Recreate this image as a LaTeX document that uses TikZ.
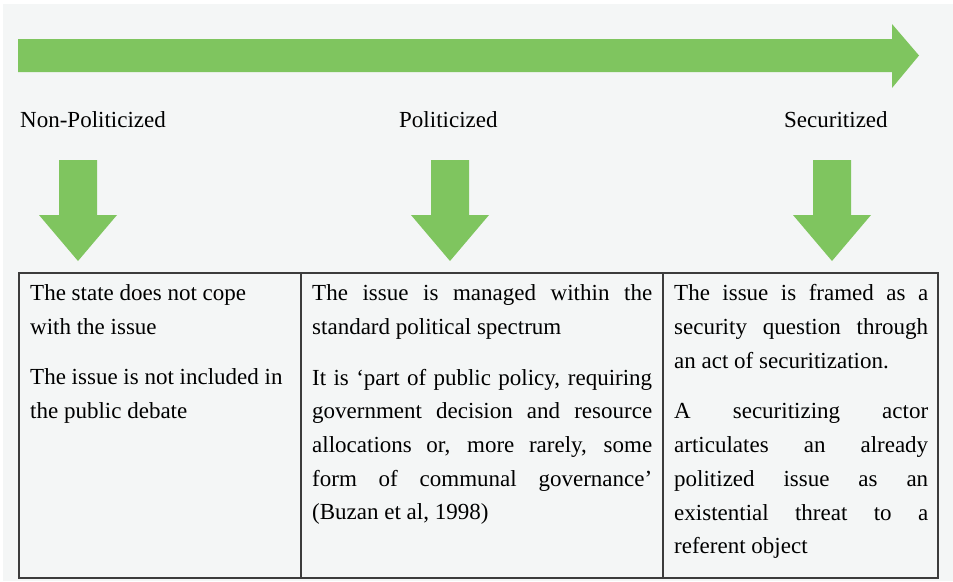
\documentclass[tikz,border=0pt]{standalone}
\usepackage{fontspec}
\setmainfont{Liberation Serif}
\definecolor{arrowgreen}{RGB}{127,197,95}
\definecolor{bggray}{RGB}{244,246,246}
\definecolor{linegray}{RGB}{60,60,60}
\tikzset{
  lbl/.style={inner sep=0pt, font=\fontsize{23pt}{33.7pt}\selectfont, text=black},
  celltext/.style={inner sep=0pt, anchor=north west, align=justify, font=\fontsize{23pt}{33.7pt}\selectfont, text=black},
  tableline/.style={draw=linegray, line width=1.4pt},
}
\begin{document}
\begin{tikzpicture}[x=1pt,y=-1pt]
\useasboundingbox (0,0) rectangle (953,581);
\fill[white] (0,0) rectangle (953,581);
\fill[bggray] (3,4) rectangle (953,581);
% big arrow
\fill[arrowgreen] (18,39) -- (892,39) -- (892,24) -- (919,55.5) -- (892,88) -- (892,72) -- (18,72) -- cycle;
% labels
\node[lbl, anchor=base west] (np) at (20,127.5) {Non-Politicized};
\node[lbl, anchor=base west] (po) at (399,127.5) {Politicized};
\node[lbl, anchor=base west] (se) at (784,127.5) {Securitized};
% down arrows
\foreach \cx in {78,450,832}{
  \fill[arrowgreen] (\cx-19,160) -- (\cx+19,160) -- (\cx+19,215) -- (\cx+39,215) -- (\cx,261) -- (\cx-39,215) -- (\cx-19,215) -- cycle;
}
% table
\draw[tableline] (19,273) rectangle (938,578);
\draw[tableline] (301,273) -- (301,578);
\draw[tableline] (663,273) -- (663,578);
% cells
\node[celltext, text width=260pt] (c1) at (30,284.5) {The state does not cope\newline with the issue\par\vspace{16.5pt}The issue is not included in\newline the public debate};
\node[celltext, text width=340pt] (c2) at (312,284.5) {The issue is managed within the\linebreak standard political spectrum\par\vspace{17pt}It is ‘part of public policy, requiring\linebreak government decision and resource\linebreak allocations or, more rarely, some\linebreak form of communal governance’\linebreak (Buzan et al, 1998)};
\node[celltext, text width=254pt] (c3) at (674,284.5) {The issue is framed as a\linebreak security question through\linebreak an act of securitization.\par\vspace{17pt}A securitizing actor\linebreak articulates an already\linebreak politized issue as an\linebreak existential threat to a\linebreak referent object};
\end{tikzpicture}
\end{document}
